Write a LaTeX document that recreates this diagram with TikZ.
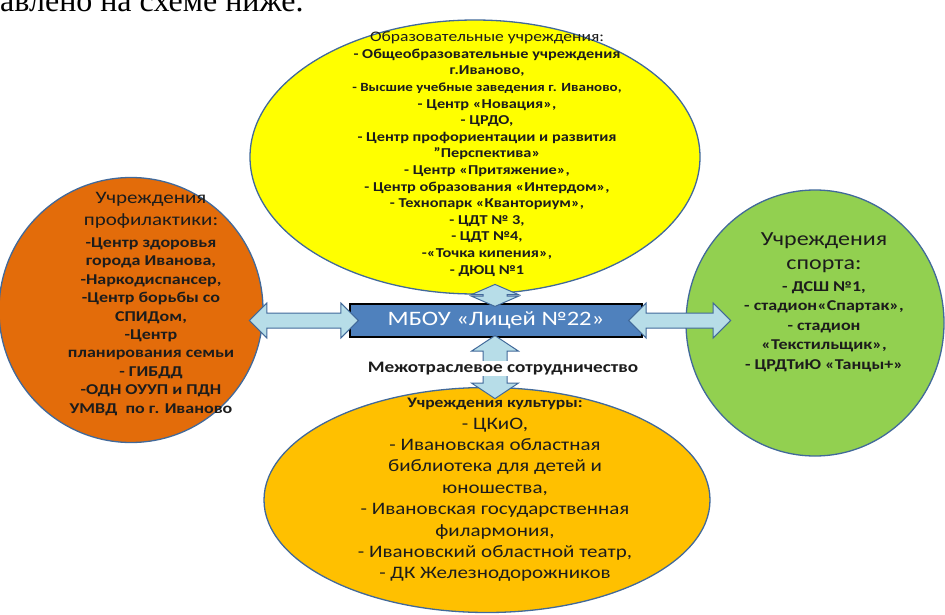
\documentclass[tikz,border=0pt]{standalone}
\usepackage{fontspec}
\setmainfont{Carlito}[FakeStretch=1.2]
\newfontfamily\pagefont{Liberation Serif}
\usepackage{tikz}
\usetikzlibrary{positioning}
\usetikzlibrary{calc}
\usetikzlibrary{shapes}

\definecolor{eduyellow}{HTML}{FFFF00}
\definecolor{proforange}{HTML}{E36C0A}
\definecolor{sportgreen}{HTML}{92D050}
\definecolor{cultgold}{HTML}{FFC000}
\definecolor{hubblue}{HTML}{4F81BD}
\definecolor{linkblue}{HTML}{B7DDE8}
\definecolor{rimblue}{HTML}{41699A}
\definecolor{ink}{HTML}{1C1C1C}

\begin{document}
\begin{tikzpicture}[
    x=1pt, y=-1pt,              % pixel grid, y going down
    ]
% -------------------------------------------------
\tikzset{
  base/.style={draw=rimblue, line width=1.3pt, inner sep=0pt},
  org/.style={base, ellipse},
  txt/.style={align=center, text=ink, inner sep=0pt},
  hub/.style={draw=black, line width=1.2pt, fill=hubblue, text=white, inner sep=0pt,
    minimum width=292pt, minimum height=33pt, font=\fontsize{20.5}{24}\selectfont},
  link/.style={double arrow, draw=rimblue, line width=1pt, fill=linkblue,
    inner xsep=0pt, minimum width=0pt}
}
\useasboundingbox (0,0) rectangle (945,615);

% cut line of the page text
\node[anchor=base west, inner sep=0pt, font=\pagefont\fontsize{32}{36}\selectfont] (pagetext) at (0,12) {авлено на схеме ниже.};

% the four groups
\node[org, fill=eduyellow, minimum width=450pt, minimum height=274pt] (edu) at (475,157) {};
\node[org, fill=proforange, minimum width=264pt, minimum height=265pt] (prof) at (131,310) {};
\node[org, fill=sportgreen, minimum width=258pt, minimum height=266pt] (sport) at (815,323) {};
\node[org, fill=cultgold, minimum width=446pt, minimum height=225pt] (cult) at (487,500) {};

\node[txt, font=\bfseries\fontsize{13.6}{16.6}\selectfont] (edutext) at (487,154) {{\mdseries\fontsize{14.6}{16.6}\selectfont Образовательные учреждения:}\\
  - Общеобразовательные учреждения\\ г.Иваново,\\ {\fontsize{12.5}{16.6}\selectfont - Высшие учебные заведения г. Иваново,}\\
  - Центр «Новация»,\\ - ЦРДО,\\ - Центр профориентации и развития\\ "Перспектива»\\
  - Центр «Притяжение»,\\ - Центр образования «Интердом»,\\ - Технопарк «Кванториум»,\\
  - ЦДТ № 3,\\ - ЦДТ №4,\\ -«Точка кипения»,\\ - ДЮЦ №1};

\node[txt, font=\bfseries\fontsize{15}{18.4}\selectfont] (proftext) at (151,304) {{\mdseries\fontsize{17.5}{21}\selectfont Учреждения}\\[3pt]
  {\mdseries\fontsize{17.5}{21}\selectfont профилактики:}\\[4pt]
  -Центр здоровья\\ города Иванова,\\ -Наркодиспансер,\\ -Центр борьбы со\\ СПИДом,\\
  -Центр\\ планирования семьи\\ - ГИБДД\\ -ОДН ОУУП и ПДН\\ УМВД\ \ по г. Иваново};

\node[txt, font=\bfseries\fontsize{15}{19.5}\selectfont] (sporttext) at (824,302) {{\mdseries\fontsize{20}{24}\selectfont Учреждения}\\[5pt]
  {\mdseries\fontsize{20}{24}\selectfont спорта:}\\[2pt]
  - ДСШ №1,\\ - стадион«Спартак»,\\ - стадион\\ «Текстильщик»,\\ - ЦРДТиЮ «Танцы+»};

\node[txt, font=\fontsize{17.5}{21.4}\selectfont] (culttext) at (495,490) {{\bfseries\fontsize{14.6}{17}\selectfont Учреждения культуры:}\\
  - ЦКиО,\\ - Ивановская областная\\ библиотека для детей и\\ юношества,\\
  - Ивановская государственная\\ филармония,\\ - Ивановский областной театр,\\ - ДК Железнодорожников};

% centre
\node[hub] (lyceum) at (496,320.5) {МБОУ «Лицей №22»};

% links
\node[link, minimum height=109pt, inner ysep=7pt, double arrow head extend=10pt] (toprof) at ([xshift=-45.5pt]lyceum.west) {};
\node[link, minimum height=102pt, inner ysep=7pt, double arrow head extend=10pt] (tosport) at ([xshift=37pt]lyceum.east) {};
\node[link, rotate=90, minimum height=22pt, inner ysep=11.5pt, double arrow head extend=11.5pt,
  double arrow tip angle=133] (toedu) at ([xshift=-1pt, yshift=8pt]lyceum.north) {};
\node[link, rotate=90, minimum height=63pt, inner ysep=11.5pt, double arrow head extend=11.5pt,
  double arrow tip angle=113] (tocult) at ([xshift=-1pt, yshift=-29.5pt]lyceum.south) {};

\node[txt, fill=white, inner ysep=1pt, font=\bfseries\fontsize{16}{18}\selectfont, below=23pt of lyceum.south, xshift=7pt] (coop) {Межотраслевое сотрудничество};
\end{tikzpicture}
\end{document}
